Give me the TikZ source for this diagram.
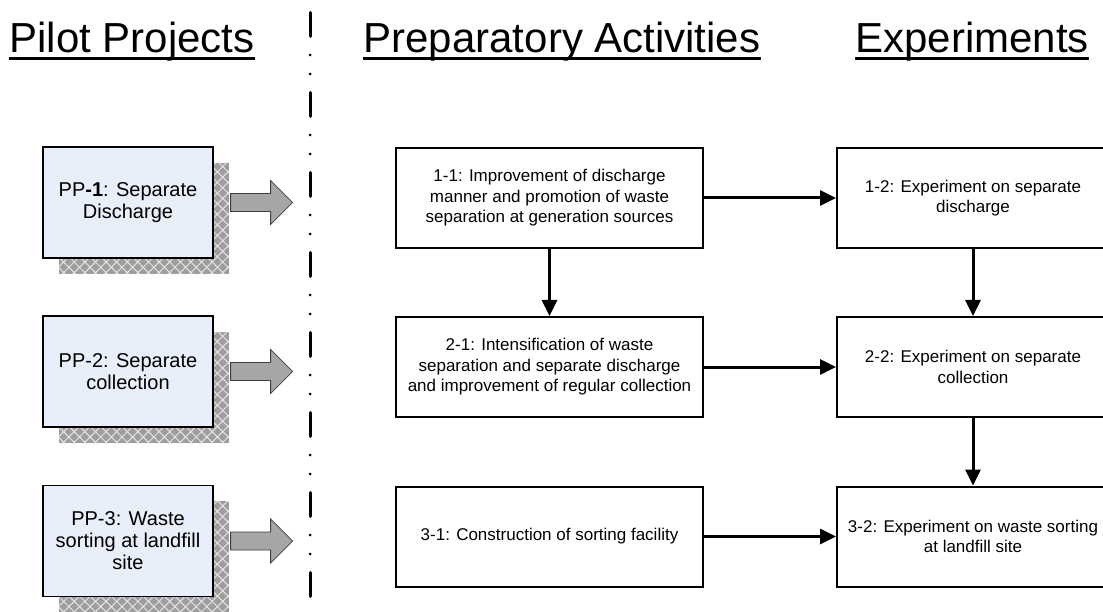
\documentclass[tikz,border=0pt]{standalone}
\usepackage{fontspec}
\setmainfont{Liberation Sans}
\usetikzlibrary{arrows.meta,patterns.meta}
\definecolor{ppfill}{RGB}{232,238,250}
\definecolor{shadowgray}{RGB}{158,158,158}
\definecolor{hatch}{RGB}{228,228,228}
\definecolor{blockfill}{RGB}{166,166,166}
\definecolor{blockline}{RGB}{64,64,64}
\begin{document}
\begin{tikzpicture}[x=1pt,y=-1pt,
  ppbox/.style={draw=black,line width=1.2pt,fill=ppfill,minimum width=170pt,minimum height=111pt,align=center,font=\fontsize{20}{22}\selectfont,inner sep=0pt},
  actbox/.style={draw=black,line width=2pt,fill=white,minimum width=307pt,minimum height=100pt,align=center,font=\fontsize{17}{20.5}\selectfont,inner sep=0pt},
  expbox/.style={actbox,minimum width=272pt},
  flow/.style={line width=3pt,-{Triangle[length=16pt,width=15pt]}},
  header/.style={font=\fontsize{42}{48}\selectfont,inner sep=0pt,anchor=base},
  uline/.style={line width=2.5pt},
  shadowbox/.style={fill=shadowgray},
  hatchA/.style={pattern={Lines[angle=45,distance=7.5pt,line width=1pt]},pattern color=hatch},
  hatchB/.style={pattern={Lines[angle=-45,distance=7.5pt,line width=1pt]},pattern color=hatch},
  blockarrow/.style={draw=blockline,fill=blockfill,line width=0.8pt,line join=miter},
  divider/.style={line width=3pt,line cap=round,dash pattern=on 24pt off 18.5pt on 0pt off 19pt on 0pt off 18.5pt}
]
\useasboundingbox (0,0) rectangle (1103,612);
\clip (0,0) rectangle (1103,612);

% headers
\node[header] (hpp) at (132,53) {Pilot Projects};
\node[header] (hpa) at (562,53) {Preparatory Activities};
\node[header] (hex) at (972,53) {Experiments};
\foreach \h in {hpp,hpa,hex}
  \draw[uline] ([yshift=-5.5pt]\h.base west) -- ([yshift=-5.5pt]\h.base east);

% divider
\coordinate (dtop) at (310,12.5);
\coordinate (dbot) at (310,640);
\draw[divider] (dtop) -- (dbot);

% shadows of pilot project boxes
\foreach \yt/\yb in {163/274, 332/443, 501/613}{
  \fill[shadowbox] (59,\yt) rectangle (229,\yb);
  \fill[hatchA] (59,\yt) rectangle (229,\yb);
  \fill[hatchB] (59,\yt) rectangle (229,\yb);
}

% pilot project boxes
\node[ppbox] (pp1) at (128,202.5) {PP\textbf{-1}: Separate\\Discharge};
\node[ppbox] (pp2) at (128,371.5) {PP-2: Separate\\collection};
\node[ppbox] (pp3) at (128,541) {PP-3: Waste\\sorting at landfill\\site};

% block arrows
\foreach \p in {pp1,pp2,pp3}
  \draw[blockarrow] ([xshift=17pt,yshift=9pt]\p.east) -- ++(40,0) -- ++(0,-13) -- ++(22,22) -- ++(-22,22) -- ++(0,-13) -- ++(-40,0) -- cycle;

% preparatory activities
\node[actbox] (a11) at (549.5,198) {1-1: Improvement of discharge\\manner and promotion of waste\\separation at generation sources};
\node[actbox] (a21) at (549.5,367) {2-1: Intensification of waste\\separation and separate discharge\\and improvement of regular collection};
\node[actbox] (a31) at (549.5,536.5) {3-1: Construction of sorting facility};

% experiments
\node[expbox] (e12) at (973,198) {1-2: Experiment on separate\\discharge};
\node[expbox] (e22) at (973,367) {2-2: Experiment on separate\\collection};
\node[expbox] (e32) at (973,536.5) {3-2: Experiment on waste sorting\\at landfill site};

% connectors
\draw[flow] (a11.east) -- (e12.west);
\draw[flow] (a21.east) -- (e22.west);
\draw[flow] (a31.east) -- (e32.west);
\draw[flow] (a11.south) -- (a21.north);
\draw[flow] (e12.south) -- (e22.north);
\draw[flow] (e22.south) -- (e32.north);
\end{tikzpicture}
\end{document}
